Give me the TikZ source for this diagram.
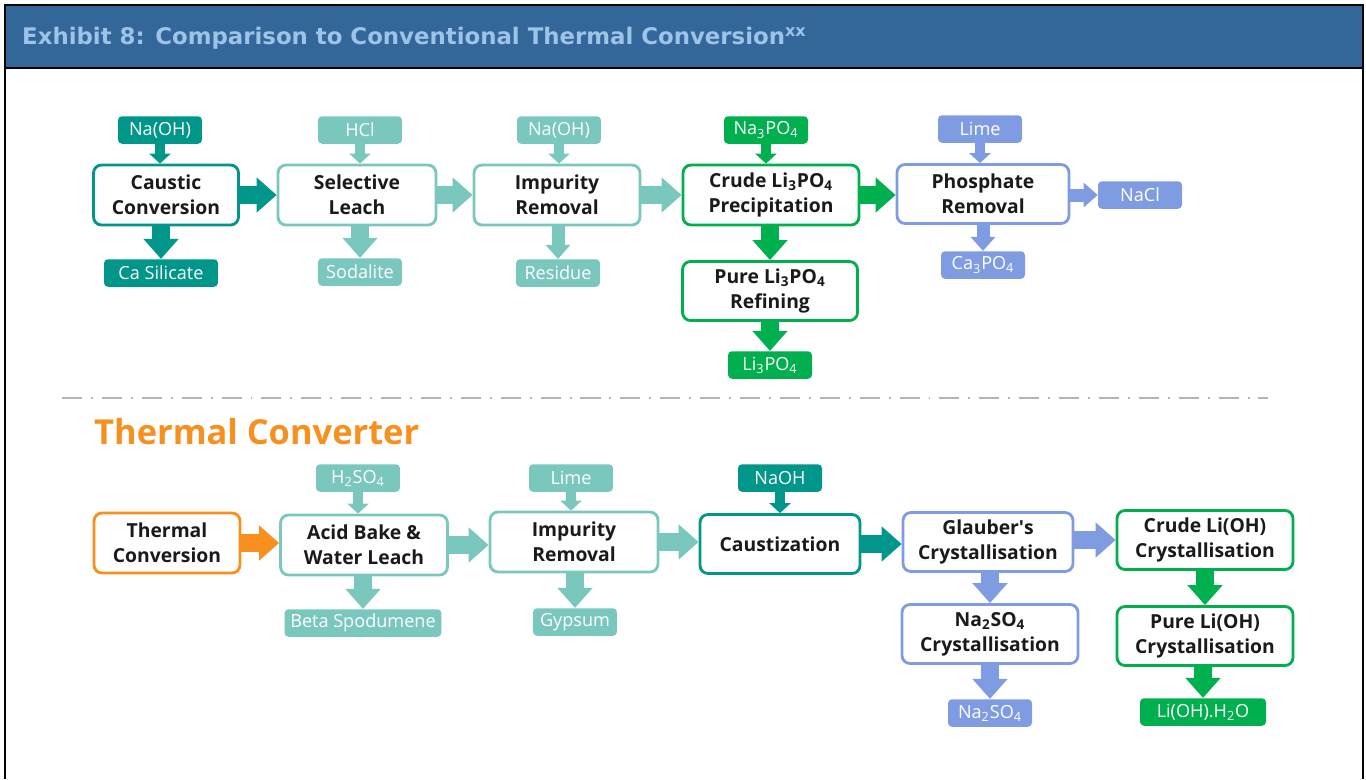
\documentclass[tikz,border=0pt]{standalone}
\usepackage{fontspec}
\setmainfont{Open Sans}
\newfontfamily\titrefont{DejaVu Sans}
\usepackage{xcolor}
\definecolor{exBandeau}{HTML}{336699}
\definecolor{exTitre}{HTML}{9DC3E6}
\definecolor{procTeal}{HTML}{00968A}
\definecolor{procTealPale}{HTML}{7AC7BE}
\definecolor{procVert}{HTML}{00B04F}
\definecolor{procLavande}{HTML}{7F9CE2}
\definecolor{procOrange}{HTML}{F7901E}
\definecolor{procGris}{HTML}{B4B4B4}
\definecolor{procTexte}{HTML}{1A1A1A}
\usetikzlibrary{arrows.meta, positioning}
\newcommand{\bas}[1]{\textsubscript{#1}}
\tikzset{
  %% -- Etapes du procede ------------------------------------------------
  etape/.style        = {draw, fill=white, rounded corners=0.16cm, line width=1.6pt,
                         align=center, text=procTexte, inner sep=1pt,
                         font=\bfseries\fontsize{11}{14.2}\selectfont,
                         minimum height=1.18cm},
  etapeTeal/.style    = {etape, draw=procTeal},
  etapePale/.style    = {etape, draw=procTealPale},
  etapeVert/.style    = {etape, draw=procVert},
  etapeLav/.style     = {etape, draw=procLavande},
  etapeOrange/.style  = {etape, draw=procOrange},
  %%
  %% -- Reactifs et produits ---------------------------------------------
  produit/.style      = {rounded corners=0.08cm, text=white, inner sep=2pt,
                         font=\fontsize{10.3}{12}\selectfont,
                         minimum height=0.55cm, minimum width=1.68cm},
  produitTeal/.style  = {produit, fill=procTeal},
  produitPale/.style  = {produit, fill=procTealPale},
  produitVert/.style  = {produit, fill=procVert},
  produitLav/.style   = {produit, fill=procLavande},
  %%
  %% -- Fleches pleines --------------------------------------------------
  flux/.style         = {line width=0.36cm, -{Triangle[length=0.4cm, width=0.68cm]}},
  fluxMoyen/.style    = {line width=0.26cm, -{Triangle[length=0.28cm, width=0.48cm]}},
  fluxFin/.style      = {line width=0.2cm, -{Triangle[length=0.2cm, width=0.42cm]}},
}

\begin{document}
\begin{tikzpicture}[x=0.02cm, y=-0.02cm]

\useasboundingbox (0,0) rectangle (1366,779);

%% Cadre et bandeau de titre.
\fill[exBandeau] (5,5) rectangle (1363,68);
\draw[black, line width=1.2pt] (5,779) -- (5,5) -- (1363,5) -- (1363,779);
\draw[black, line width=1.2pt] (5,68) -- (1363,68);
\node[anchor=west, text=exTitre, font=\titrefont\bfseries\fontsize{13}{15}\selectfont]
     (titre) at (16,38) {Exhibit 8: Comparison to Conventional Thermal Conversion\textsuperscript{xx}};

%% Voie phosphate (haut).
\node[etapeTeal, minimum width=2.9cm, minimum height=1.2cm] (caustique) at (166,195) {Caustic\\Conversion};
\node[etapePale, minimum width=3.16cm, minimum height=1.2cm] (lixSel) at (357,195) {Selective\\Leach};
\node[etapePale, minimum width=3.32cm, minimum height=1.2cm] (impur) at (557,195) {Impurity\\Removal};
\node[etapeVert, minimum width=3.52cm, minimum height=1.2cm] (bruteLi) at (771,195) {Crude Li\bas{3}PO\bas{4}\\Precipitation};
\node[etapeLav, minimum width=3.44cm] (phos) at (983,194) {Phosphate\\Removal};
\node[etapeVert, minimum width=3.5cm] (purLi) at (770,291) {Pure Li\bas{3}PO\bas{4}\\Refining};

\node[produitTeal] (naohA) at (160,130) {Na(OH)};
\node[produitPale] (hcl) at (360,130) {HCl};
\node[produitPale] (naohB) at (559,130) {Na(OH)};
\node[produitVert] (na3po4) at (766,130) {Na\bas{3}PO\bas{4}};
\node[produitLav] (chauxA) at (980,129) {Lime};
\node[produitTeal, minimum width=2.28cm] (caSil) at (161,273) {Ca Silicate};
\node[produitPale] (sodal) at (360,272) {Sodalite};
\node[produitPale] (resid) at (558,273) {Residue};
\node[produitLav] (nacl) at (1140,195) {NaCl};
\node[produitLav] (ca3po4) at (983,265) {Ca\bas{3}PO\bas{4}};
\node[produitVert] (li3po4) at (770,365) {Li\bas{3}PO\bas{4}};

\draw[flux, procTeal] (caustique.east) -- (caustique.east -| lixSel.west);
\draw[flux, procTealPale] (lixSel.east) -- (lixSel.east -| impur.west);
\draw[flux, procTealPale] (impur.east) -- (impur.east -| bruteLi.west);
\draw[flux, procVert] (bruteLi.east) -- (bruteLi.east -| phos.west);
\draw[flux, procVert] (bruteLi.south -| purLi) -- (purLi.north);
\draw[flux, procVert] (purLi.south) -- (li3po4.north);
\draw[flux, procTeal] (caustique.south -| caSil) -- (caSil.north);
\draw[flux, procTealPale] (lixSel.south -| sodal) -- (sodal.north);
\draw[fluxMoyen, procTealPale] (impur.south -| resid) -- (resid.north);
\draw[fluxMoyen, procLavande] (phos.east |- nacl) -- (nacl.west);
\draw[fluxMoyen, procLavande] (phos.south -| ca3po4) -- (ca3po4.north);
\draw[fluxFin, procTeal] (naohA.south) -- (naohA |- caustique.north);
\draw[fluxFin, procTealPale] (hcl.south) -- (hcl |- lixSel.north);
\draw[fluxFin, procTealPale] (naohB.south) -- (naohB |- impur.north);
\draw[fluxFin, procVert] (na3po4.south) -- (na3po4 |- bruteLi.north);
\draw[fluxFin, procLavande] (chauxA.south) -- (chauxA |- phos.north);

%% Separation des deux voies.
\draw[procGris, line width=1.1pt, dash pattern=on 11.4pt off 5.1pt on 1.1pt off 5.1pt]
     (62,398) -- (1268,398);
\node[anchor=west, text=procOrange, font=\bfseries\fontsize{19.6}{23}\selectfont]
     (voieThermique) at (88,432) {Thermal Converter};

%% Voie thermique (bas).
\node[etapeOrange, minimum width=2.92cm, minimum height=1.2cm] (thermo) at (167,543) {Thermal\\Conversion};
\node[etapePale, minimum width=3.34cm, minimum height=1.2cm] (acide) at (364,545) {Acid Bake \&\\Water Leach};
\node[etapePale, minimum width=3.36cm, minimum height=1.2cm] (impurB) at (574,542) {Impurity\\Removal};
\node[etapeTeal, minimum width=3.2cm] (caustiz) at (780,544) {Caustization};
\node[etapeLav, minimum width=3.4cm] (glauber) at (988,542) {Glauber\textquotesingle s\\Crystallisation};
\node[etapeVert, minimum width=3.52cm] (bruteOH) at (1205,540) {Crude Li(OH)\\Crystallisation};
\node[etapeLav, minimum width=3.52cm] (na2so4C) at (990,634) {Na\bas{2}SO\bas{4}\\Crystallisation};
\node[etapeVert, minimum width=3.52cm] (purOH) at (1205,636) {Pure Li(OH)\\Crystallisation};

\node[produitPale] (h2so4) at (358,478) {H\bas{2}SO\bas{4}};
\node[produitPale] (chauxB) at (571,478) {Lime};
\node[produitTeal] (naohC) at (780,478) {NaOH};
\node[produitPale, minimum width=3.14cm] (beta) at (363,623) {Beta Spodumene};
\node[produitPale] (gypse) at (575,622) {Gypsum};
\node[produitLav] (na2so4) at (990,713) {Na\bas{2}SO\bas{4}};
\node[produitVert, minimum width=2.52cm] (lioh) at (1203,712) {Li(OH).H\bas{2}O};

\draw[flux, procOrange] (thermo.east) -- (thermo.east -| acide.west);
\draw[flux, procTealPale] (acide.east) -- (acide.east -| impurB.west);
\draw[flux, procTealPale] (impurB.east) -- (impurB.east -| caustiz.west);
\draw[flux, procTeal] (caustiz.east) -- (caustiz.east -| glauber.west);
\draw[flux, procLavande] (glauber.east |- bruteOH) -- (bruteOH.west);
\draw[flux, procLavande] (glauber.south -| na2so4C) -- (na2so4C.north);
\draw[flux, procLavande] (na2so4C.south) -- (na2so4.north);
\draw[flux, procVert] (bruteOH.south) -- (purOH.north);
\draw[flux, procVert] (purOH.south -| lioh) -- (lioh.north);
\draw[flux, procTealPale] (acide.south -| beta) -- (beta.north);
\draw[flux, procTealPale] (impurB.south -| gypse) -- (gypse.north);
\draw[fluxFin, procTealPale] (h2so4.south) -- (h2so4 |- acide.north);
\draw[fluxFin, procTealPale] (chauxB.south) -- (chauxB |- impurB.north);
\draw[fluxFin, procTeal] (naohC.south) -- (naohC |- caustiz.north);

\end{tikzpicture}
\end{document}
